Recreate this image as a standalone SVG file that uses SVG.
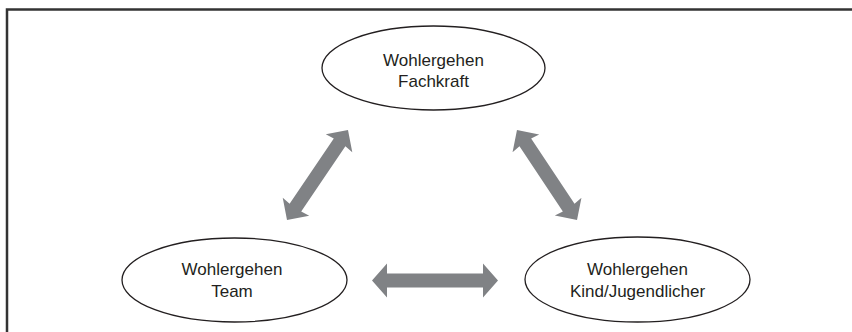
<svg xmlns="http://www.w3.org/2000/svg" width="852" height="332" viewBox="0 0 852 332">
<style>
.node ellipse{fill:#fff;stroke:#231f20;stroke-width:1.3}
.node text{font-family:"Liberation Sans",Arial,sans-serif;font-size:17px;fill:#231f20;text-anchor:middle}
.arrow{fill:#808285}
.frame{fill:none;stroke:#333;stroke-width:2.5}
</style>
<rect width="852" height="332" fill="#fff"/>
<path class="frame" d="M7 332 V9.5 H852"/>
<g id="fachkraft" class="node">
<ellipse cx="433.5" cy="68" rx="111.5" ry="42"/>
<text x="433.5" y="66">Wohlergehen</text>
<text x="433.5" y="87">Fachkraft</text>
</g>
<g id="team" class="node">
<ellipse cx="234.5" cy="280" rx="112.5" ry="42"/>
<text x="232" y="275">Wohlergehen</text>
<text x="232" y="297">Team</text>
</g>
<g id="kind" class="node">
<ellipse cx="637.5" cy="279.5" rx="112.5" ry="42.5"/>
<text x="637.5" y="275">Wohlergehen</text>
<text x="637.5" y="297">Kind/Jugendlicher</text>
</g>
<g id="connectors">
<path class="arrow" transform="translate(317.5 175) rotate(-55.9)" d="M-54.4 0 L-38.4 -16 L-39.4 -7 L39.4 -7 L38.4 -16 L54.4 0 L38.4 16 L39.4 7 L-39.4 7 L-38.4 16 Z"/>
<path class="arrow" transform="translate(547 175) rotate(56.3)" d="M-54.1 0 L-38.1 -16 L-39.1 -7 L39.1 -7 L38.1 -16 L54.1 0 L38.1 16 L39.1 7 L-39.1 7 L-38.1 16 Z"/>
<path class="arrow" transform="translate(435 280.5)" d="M-63 0 L-48 -17 L-48 -7 L48 -7 L48 -17 L63 0 L48 17 L48 7 L-48 7 L-48 17 Z"/>
</g>
</svg>
